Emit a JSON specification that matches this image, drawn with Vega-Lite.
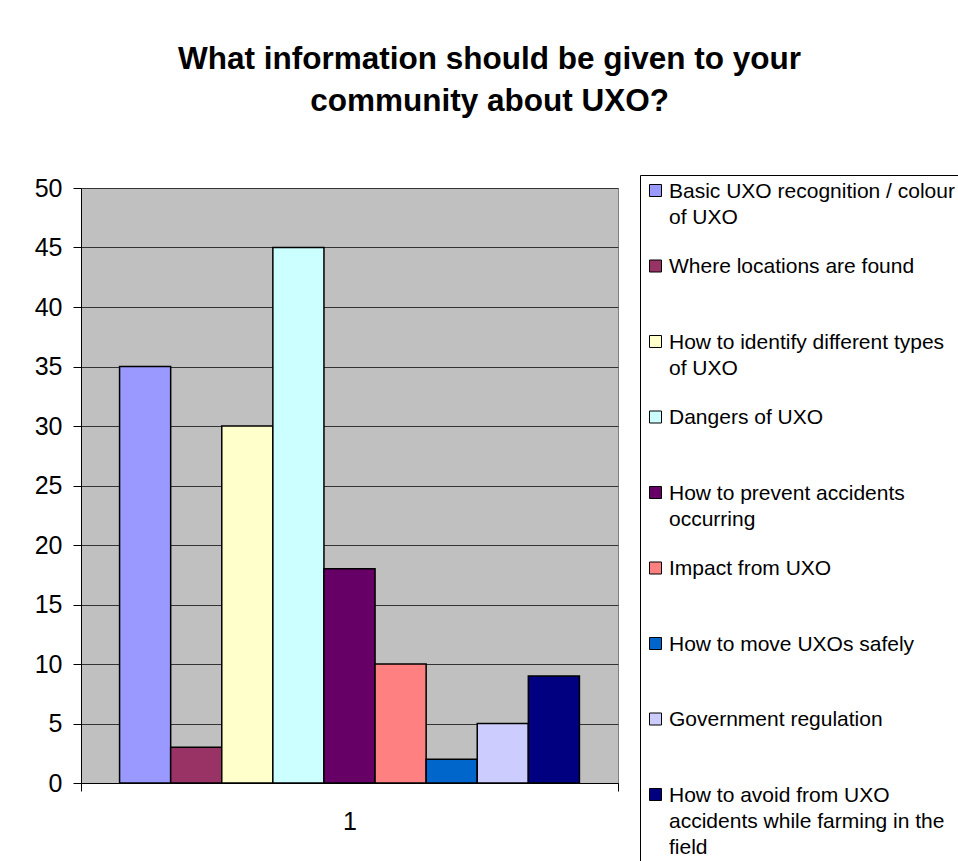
{
  "$schema": "https://vega.github.io/schema/vega-lite/v6.json",
  "autosize": "none",
  "width": 537,
  "height": 595,
  "padding": {"left": 81, "top": 188, "right": 340, "bottom": 78},
  "background": "white",
  "title": {
    "text": ["What information should be given to your", "community about UXO?"],
    "font": "Liberation Sans",
    "fontSize": 31.5,
    "fontWeight": "bold",
    "color": "black",
    "anchor": "middle",
    "dx": 140,
    "offset": 57,
    "lineHeight": 42
  },
  "data": {
    "values": [
      {"cat": "1", "series": "Basic UXO recognition / colour|of UXO|", "value": 35},
      {"cat": "1", "series": "Where locations are found||", "value": 3},
      {"cat": "1", "series": "How to identify different types|of UXO|", "value": 30},
      {"cat": "1", "series": "Dangers of UXO||", "value": 45},
      {"cat": "1", "series": "How to prevent accidents|occurring|", "value": 18},
      {"cat": "1", "series": "Impact from UXO||", "value": 10},
      {"cat": "1", "series": "How to move UXOs safely||", "value": 2},
      {"cat": "1", "series": "Government regulation||", "value": 5},
      {"cat": "1", "series": "How to avoid from UXO|accidents while farming in the|field", "value": 9}
    ]
  },
  "mark": {"type": "bar", "stroke": "black", "strokeWidth": 1.5},
  "encoding": {
    "x": {
      "field": "cat",
      "type": "nominal",
      "scale": {"paddingInner": 0, "paddingOuter": 0},
      "axis": {
        "title": null,
        "labelAngle": 0,
        "tickBand": "extent",
        "grid": false,
        "labelFont": "Liberation Sans",
        "labelFontSize": 25,
        "labelColor": "black",
        "labelPadding": 18,
        "tickSize": 8,
        "tickColor": "black",
        "domainColor": "black"
      }
    },
    "xOffset": {
      "field": "series",
      "type": "nominal",
      "sort": null,
      "scale": {"paddingInner": 0, "paddingOuter": 0.755}
    },
    "y": {
      "field": "value",
      "type": "quantitative",
      "scale": {"domain": [0, 50]},
      "axis": {
        "title": null,
        "values": [0, 5, 10, 15, 20, 25, 30, 35, 40, 45, 50],
        "labelFont": "Liberation Sans",
        "labelFontSize": 25,
        "labelColor": "black",
        "labelPadding": 11,
        "tickSize": 8,
        "tickColor": "black",
        "domainColor": "black",
        "grid": true,
        "gridColor": "#333333",
        "gridOpacity": 1,
        "gridWidth": 1
      }
    },
    "color": {
      "field": "series",
      "type": "nominal",
      "sort": null,
      "scale": {
        "domain": [
          "Basic UXO recognition / colour|of UXO|",
          "Where locations are found||",
          "How to identify different types|of UXO|",
          "Dangers of UXO||",
          "How to prevent accidents|occurring|",
          "Impact from UXO||",
          "How to move UXOs safely||",
          "Government regulation||",
          "How to avoid from UXO|accidents while farming in the|field"
        ],
        "range": ["#9999FF", "#993366", "#FFFFCC", "#CCFFFF", "#660066", "#FF8080", "#0066CC", "#CCCCFF", "#000080"]
      },
      "legend": {
        "orient": "none",
        "legendX": 559,
        "legendY": -13,
        "direction": "vertical",
        "title": null,
        "labelExpr": "split(datum.label, '|')",
        "labelFont": "Liberation Sans",
        "labelFontSize": 21,
        "labelColor": "black",
        "labelBaseline": "alphabetic",
        "labelOffset": 3,
        "labelLimit": 500,
        "symbolType": "square",
        "symbolSize": 144,
        "symbolStrokeColor": "black",
        "symbolStrokeWidth": 1,
        "symbolOpacity": 1,
        "strokeColor": "black",
        "fillColor": "white",
        "padding": 5,
        "rowPadding": 1.5,
        "encoding": {
          "labels": {
            "dy": {"value": 7},
            "lineHeight": {"value": 26}
          }
        }
      }
    }
  },
  "config": {
    "view": {"fill": "#C0C0C0", "stroke": "#808080"},
    "font": "Liberation Sans"
  }
}
